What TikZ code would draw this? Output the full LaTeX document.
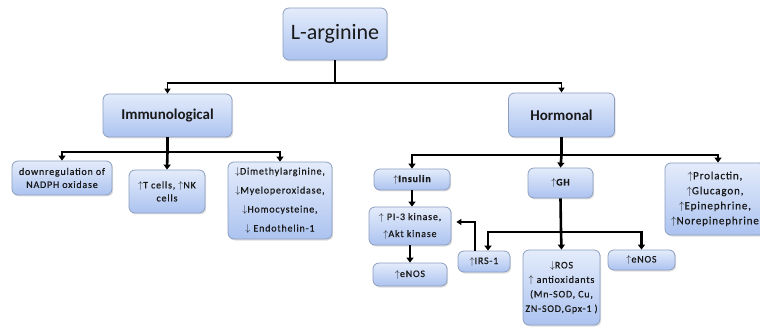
\documentclass[tikz,border=0pt]{standalone}
\usepackage{fontspec}
\setmainfont{Carlito}
\newfontfamily\smallf[LetterSpace=8,FakeBold=0.6]{Carlito}
\usetikzlibrary{arrows.meta,shadows}
\newcommand\uparr{\ensuremath{\uparrow}}
\newcommand\dnarr{\ensuremath{\downarrow}}
\definecolor{boxtop}{RGB}{228,236,251}
\definecolor{boxbot}{RGB}{172,195,240}
\definecolor{boxline}{RGB}{140,158,192}
\tikzset{
  box/.style={draw=boxline, line width=0.8pt, rounded corners=6pt,
    top color=boxtop, bottom color=boxbot, align=center, inner sep=1pt,
    text=black!90,
    drop shadow={shadow xshift=1.2pt, shadow yshift=-1.5pt, opacity=0.25}},
  sm/.style={font=\smallf\fontsize{10}{#1}\selectfont},
  smb/.style={font=\smallf\bfseries\fontsize{10}{#1}\selectfont},
  conn/.style={line width=2.6pt, -{Triangle[length=5pt,width=7pt]}},
  connthin/.style={line width=1.8pt, -{Triangle[length=5pt,width=6pt]}},
  plainline/.style={line width=2.6pt},
}
\begin{document}
\begin{tikzpicture}[x=1pt,y=-1pt]
\useasboundingbox (0,0) rectangle (760,331);
% nodes
\node[box, minimum width=104pt, minimum height=52pt, font=\fontsize{22}{24}\selectfont] (larg) at (335,34) {L-arginine};
\node[box, minimum width=129pt, minimum height=43pt, font=\bfseries\fontsize{15}{17}\selectfont] (immu) at (167.5,115.5) {Immunological};
\node[box, minimum width=106pt, minimum height=44pt, font=\bfseries\fontsize{15}{17}\selectfont] (horm) at (561.5,115) {Hormonal};
\node[box, sm=13, minimum width=100pt, minimum height=34pt] (down) at (62,178) {downregulation of\\NADPH oxidase};
\node[box, sm=13, minimum width=76pt, minimum height=43pt] (tcell) at (167,191.5) {\uparr T cells, \uparr NK\\cells};
\node[box, sm=19, minimum width=104pt, minimum height=77pt] (dime) at (280,200.5) {\dnarr Dimethylarginine,\\\dnarr Myeloperoxidase,\\\dnarr Homocysteine,\\\dnarr\ Endothelin-1};
\node[box, smb=13, minimum width=76pt, minimum height=21pt] (ins) at (412,179.5) {\uparr Insulin};
\node[box, smb=13, minimum width=65pt, minimum height=30pt] (gh) at (560.5,183) {\uparr GH};
\node[box, font=\smallf\fontsize{11}{15}\selectfont, minimum width=100pt, minimum height=72pt] (prol) at (715,199) {\uparr Prolactin,\\\uparr Glucagon,\\\uparr Epinephrine,\\\uparr Norepinephrine};
\node[box, sm=17, minimum width=82pt, minimum height=38pt] (pi3) at (410,226) {\uparr\ PI-3 kinase,\\\uparr Akt kinase};
\node[box, sm=13, minimum width=74pt, minimum height=23pt] (enosa) at (410,274.5) {\uparr eNOS};
\node[box, sm=13, minimum width=52pt, minimum height=21pt] (irs) at (484,261.5) {\uparr IRS-1};
\node[box, sm=14.5, minimum width=77pt, minimum height=75pt] (ros) at (561.5,287.5) {\dnarr ROS\\\uparr\ antioxidants\\(Mn-SOD, Cu,\\ZN-SOD,Gpx-1 )};
\node[box, sm=13, minimum width=67pt, minimum height=20pt] (enosb) at (641.5,260) {\uparr eNOS};
% junctions
\coordinate (j1) at (335,83);
\coordinate (j2) at (167.5,152);
\coordinate (j3) at (561.5,155);
\coordinate (j4) at (561,232);
% connectors
\draw[line width=1.8pt] (larg.south) -- (j1);
\draw[connthin] (j1) -| (immu.north);
\draw[connthin] (j1) -| (horm.north);
\draw[plainline] (immu.south) -- (j2);
\draw[conn] (j2) -- (tcell.north);
\draw[conn] (j2) -| (down.north);
\draw[conn] (j2) -| (dime.north);
\draw[plainline] (horm.south) -- (j3);
\draw[conn] (j3) -- (gh.north);
\draw[conn] (j3) -| (ins.north);
\draw[conn] (j3) -| ([xshift=3pt]prol.north);
\draw[conn] (ins.south) -- (ins.south |- pi3.north);
\draw[conn] (pi3.south) -- (pi3.south |- enosa.north);
\draw[plainline] (gh.south) -- (j4);
\draw[conn] (j4) -- (ros.north);
\draw[conn] (j4) -| ([xshift=4pt]irs.north);
\draw[conn] (j4) -| (enosb.north);
\draw[line width=1.5pt, -{Triangle[length=5pt,width=6pt]}] ([xshift=-9pt]irs.north) |- ([xshift=5pt,yshift=4pt]pi3.east);
\end{tikzpicture}
\end{document}
